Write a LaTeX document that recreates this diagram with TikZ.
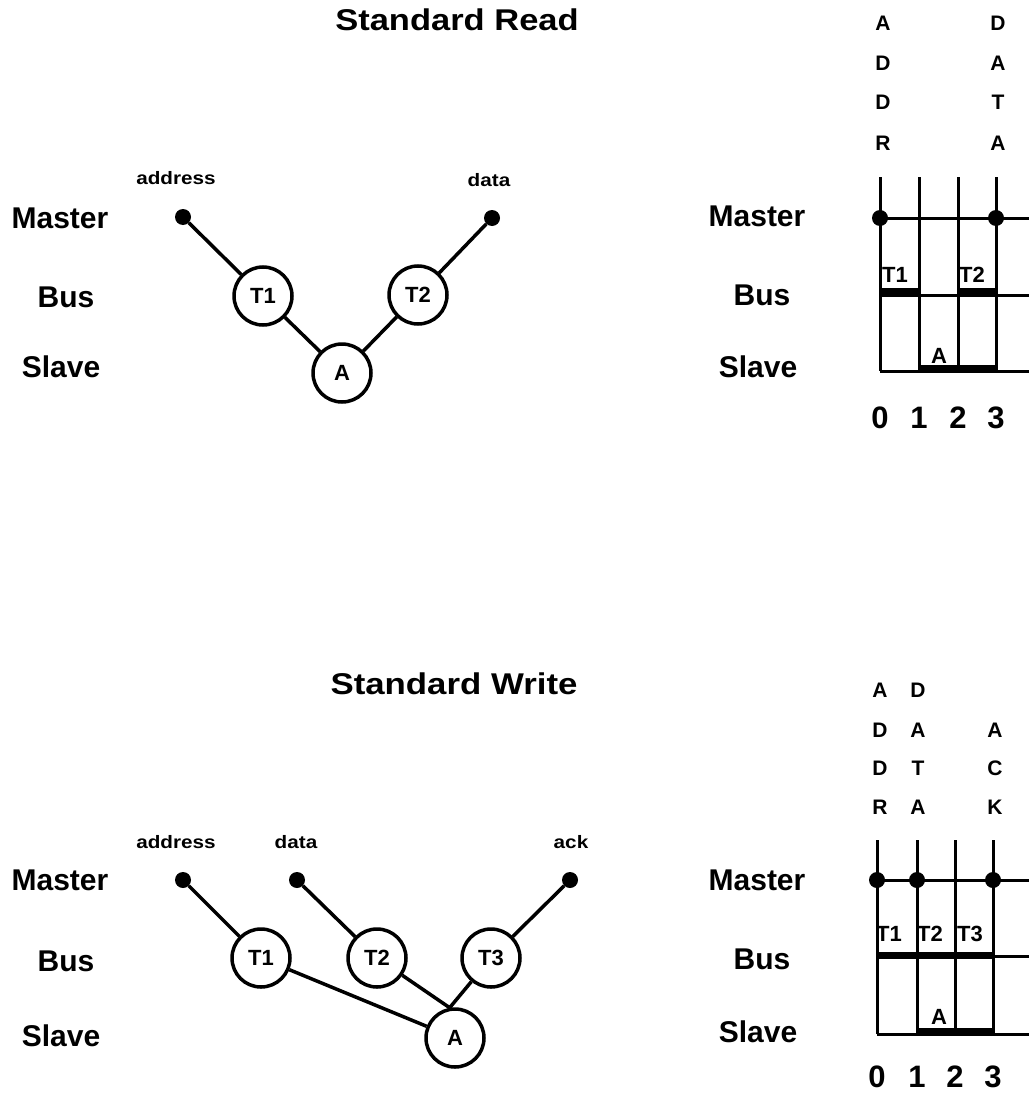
\documentclass[tikz,border=0pt]{standalone}
\usepackage{fontspec}
\setmainfont{Liberation Sans}
\begin{document}
\begin{tikzpicture}[x=1pt,y=-1pt,
  ttl/.style={inner sep=0pt,font=\fontsize{30}{30}\selectfont\bfseries},
  rowlbl/.style={inner sep=0pt,font=\fontsize{30}{30}\selectfont\bfseries},
  sml/.style={inner sep=0pt,font=\fontsize{18}{18}\selectfont\bfseries},
  evt/.style={circle,draw,line width=3.5pt,minimum size=58pt,inner sep=0pt,font=\fontsize{22}{22}\selectfont\bfseries},
  mdot/.style={circle,fill,minimum size=16pt,inner sep=0pt},
  conn/.style={line width=3.5pt},
  gline/.style={line width=3pt},
  bar/.style={line width=7pt},
  tlet/.style={inner sep=0pt,font=\fontsize{21}{21}\selectfont\bfseries},
  tlab/.style={inner sep=0pt,font=\fontsize{22}{22}\selectfont\bfseries},
  num/.style={inner sep=0pt,font=\fontsize{31}{31}\selectfont\bfseries}]
\useasboundingbox (0,0) rectangle (1029,1097);

% ================= Standard Read =================
\node[ttl] (t1) at (457,20) {\scalebox{1.15}[1]{Standard Read}};
\node[rowlbl] (m1) at (60,218) {Master};
\node[rowlbl] (b1) at (66,297) {Bus};
\node[rowlbl] (s1) at (61,367) {Slave};
\node[sml] (ra) at (176,178) {\scalebox{1.15}[1]{address}};
\node[sml] (rd) at (489,180) {\scalebox{1.15}[1]{data}};
\node[mdot] (rda) at (183,217) {};
\node[mdot] (rdd) at (492,218) {};
\node[evt] (rT1) at (263,296) {T1};
\node[evt] (rT2) at (418,295) {T2};
\node[evt] (rA) at (342,373) {A};
\draw[conn] (rda) -- (rT1);
\draw[conn] (rT1) -- (rA);
\draw[conn] (rA) -- (rT2);
\draw[conn] (rT2) -- (rdd);

% timing (read)
\node[rowlbl] (m1r) at (757,216) {Master};
\node[rowlbl] (b1r) at (762,295) {Bus};
\node[rowlbl] (s1r) at (758,367) {Slave};
\foreach \l/\y in {A/23,D/63,D/102,R/143} \node[tlet] at (883,\y) {\l};
\foreach \l/\y in {D/23,A/63,T/102,A/143} \node[tlet] at (998,\y) {\l};
\foreach \x in {880,919,958,996} \draw[gline] (\x,177) -- (\x,371);
\draw[gline] (880,218) -- (1029,218);
\draw[gline] (880,295) -- (1029,295);
\draw[gline] (880,371) -- (1029,371);
\draw[bar] (880,291) -- (919,291);
\draw[bar] (958,291) -- (996,291);
\draw[bar] (919,368.5) -- (996,368.5);
\node[mdot] (rk0) at (880,218) {};
\node[mdot] (rk3) at (996,218) {};
\node[tlab] at (895,275) {T1};
\node[tlab] at (972,275) {T2};
\node[tlab] at (939,356) {A};
\foreach \n/\x in {0/880,1/919,2/958,3/996} \node[num] at (\x,418) {\n};

% ================= Standard Write =================
\node[ttl] (t2) at (454,684) {\scalebox{1.16}[1]{Standard Write}};
\node[rowlbl] (m2) at (60,880) {Master};
\node[rowlbl] (b2) at (66,961) {Bus};
\node[rowlbl] (s2) at (61,1036) {Slave};
\node[sml] (wa) at (176,842) {\scalebox{1.15}[1]{address}};
\node[sml] (wd) at (296,842) {\scalebox{1.15}[1]{data}};
\node[sml] (wk) at (571,842) {\scalebox{1.15}[1]{ack}};
\node[mdot] (wda) at (183,880) {};
\node[mdot] (wdd) at (297,880) {};
\node[mdot] (wdk) at (570,880) {};
\node[evt] (wT1) at (261,958) {T1};
\node[evt] (wT2) at (377,958) {T2};
\node[evt] (wT3) at (491,958) {T3};
\node[evt] (wA) at (455,1038) {A};
\draw[conn] (wda) -- (wT1);
\draw[conn] (wdd) -- (wT2);
\draw[conn] (wdk) -- (wT3);
\draw[conn] (wT1) -- (wA);
\draw[conn] (wT2) -- (wA.100);
\draw[conn] (wT3) -- (wA.100);

% timing (write)
\node[rowlbl] (m2r) at (757,880) {Master};
\node[rowlbl] (b2r) at (762,959) {Bus};
\node[rowlbl] (s2r) at (758,1032) {Slave};
\foreach \l/\y in {A/690,D/730,D/768,R/807} \node[tlet] at (880,\y) {\l};
\foreach \l/\y in {D/690,A/730,T/768,A/807} \node[tlet] at (918,\y) {\l};
\foreach \l/\y in {A/730,C/768,K/807} \node[tlet] at (995,\y) {\l};
\foreach \x in {877,917,955,993} \draw[gline] (\x,840) -- (\x,1034);
\draw[gline] (877,880) -- (1029,880);
\draw[gline] (877,956) -- (1029,956);
\draw[gline] (877,1034) -- (1029,1034);
\draw[bar] (877,955) -- (993,955);
\draw[bar] (917,1031) -- (993,1031);
\node[mdot] (wk0) at (877,880) {};
\node[mdot] (wk1) at (917,880) {};
\node[mdot] (wk3) at (993,880) {};
\node[tlab] at (889,934) {T1};
\node[tlab] at (930,934) {T2};
\node[tlab] at (970,934) {T3};
\node[tlab] at (939,1017) {A};
\foreach \n/\x in {0/877,1/917,2/955,3/993} \node[num] at (\x,1077) {\n};
\end{tikzpicture}
\end{document}
